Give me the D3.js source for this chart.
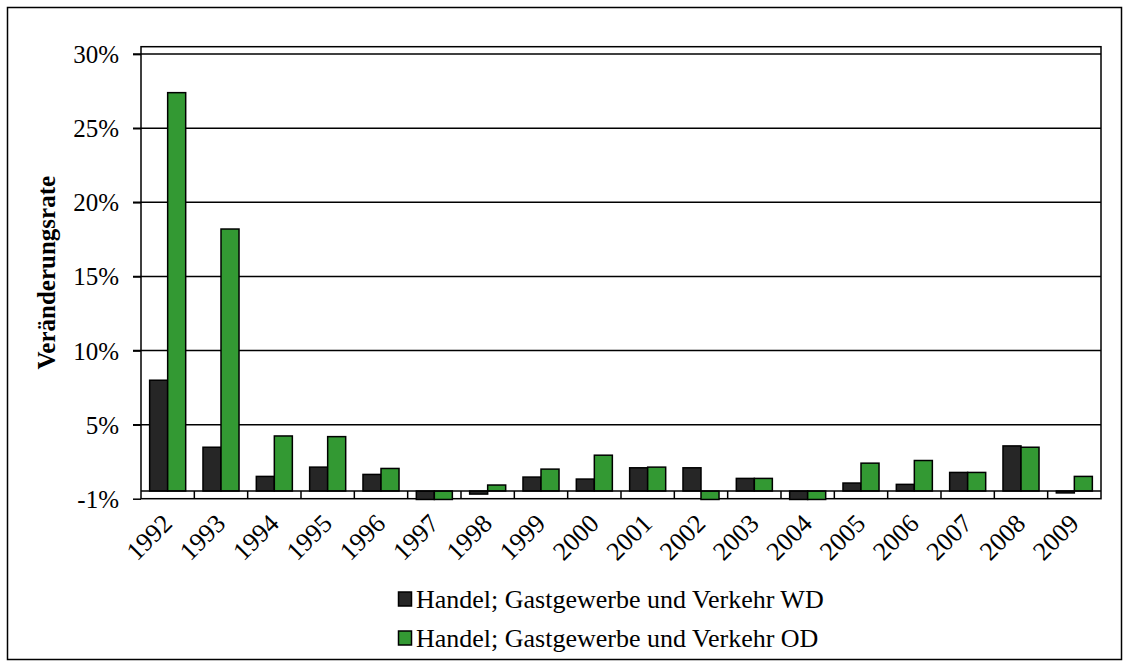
<!DOCTYPE html>
<html><head><meta charset="utf-8">
<script src="https://cdn.jsdelivr.net/npm/d3@7"></script>
<style>body{margin:0;background:#fff}svg{display:block}text{font-family:"Liberation Serif","Times New Roman",serif;fill:#000}</style>
</head><body>
<svg id="c" width="1130" height="668"></svg>
<script>
const years = ["1992","1993","1994","1995","1996","1997","1998","1999","2000","2001","2002","2003","2004","2005","2006","2007","2008","2009"];
const seriesNames = ["Handel; Gastgewerbe und Verkehr WD","Handel; Gastgewerbe und Verkehr OD"];
const valuesWD = [8.0, 3.3, 1.1, 1.8, 1.25, -1.1, -0.4, 1.05, 0.9, 1.75, 1.75, 0.95, -1.1, 0.6, 0.5, 1.4, 3.4, -0.25];
const valuesOD = [27.4, 18.2, 4.15, 4.1, 1.7, -1.1, 0.45, 1.65, 2.7, 1.8, -1.1, 0.95, -1.1, 2.1, 2.3, 1.4, 3.3, 1.1];
const tickValues = [30, 25, 20, 15, 10, 5, -1];
const tickLabels = ["30%","25%","20%","15%","10%","5%","-1%"];
const colors = ["#262626", "#339933"];

const svg = d3.select("#c");
const L = 141, R = 1101, T = 46.7, B = 498.7;

svg.append("rect").attr("x",7.5).attr("y",7.5).attr("width",1114).attr("height",652)
  .attr("fill","#fff").attr("stroke","#000").attr("stroke-width",1.5);

const x = d3.scaleBand().domain(years).range([L, R]).paddingInner(0).paddingOuter(0);
const inner = d3.scaleBand().domain([0,1]).range([0, x.bandwidth()]).paddingInner(0).paddingOuter(0.48);
const y = d3.scaleLinear().domain([-1, 0, 5, 30.5]).range([B, 491, 424.7, T]);

// gridlines
svg.append("g").selectAll("line").data(tickValues.filter(v => v > 0)).join("line")
  .attr("x1", L - 8).attr("x2", R).attr("y1", d => y(d)).attr("y2", d => y(d))
  .attr("stroke","#000").attr("stroke-width",1.5);

// plot border
svg.append("rect").attr("x",L).attr("y",T).attr("width",R-L).attr("height",B-T)
  .attr("fill","none").attr("stroke","#000").attr("stroke-width",1.5);

// y axis
const yAxis = d3.axisLeft(y).tickValues(tickValues).tickFormat((d,i) => tickLabels[i]).tickSize(8).tickPadding(14);
const ga = svg.append("g").attr("transform",`translate(${L},0)`).call(yAxis);
ga.select(".domain").remove();
ga.selectAll(".tick line").attr("stroke","#000").attr("stroke-width",1.5);
ga.selectAll(".tick text").style("font-size","25px").attr("dy","0.34em");

// bars
const data = years.map((yr,i) => ({yr, vals:[valuesWD[i], valuesOD[i]]}));
const g = svg.append("g");
data.forEach(d => {
  d.vals.forEach((v,k) => {
    const y0 = y(0), y1 = y(v);
    g.append("rect")
      .attr("x", x(d.yr) + inner(k)).attr("width", inner.bandwidth())
      .attr("y", Math.min(y0,y1)).attr("height", Math.abs(y1-y0))
      .attr("fill", colors[k]).attr("stroke","#000").attr("stroke-width",1.5);
  });
});

// category axis line at 0 and separators
svg.append("line").attr("x1",L).attr("x2",R).attr("y1",y(0)).attr("y2",y(0)).attr("stroke","#000").attr("stroke-width",1.5);
svg.append("g").selectAll("line").data(years.slice(1)).join("line")
  .attr("x1", d => x(d)).attr("x2", d => x(d)).attr("y1", y(0)).attr("y2", B)
  .attr("stroke","#000").attr("stroke-width",1.5);

// year labels
svg.append("g").selectAll("text").data(years).join("text")
  .attr("transform", d => `translate(${x(d) + x.bandwidth()/2 + 6},${525}) rotate(-45)`)
  .attr("text-anchor","end").style("font-size","26px").text(d => d);

// y title
svg.append("text").attr("transform",`translate(55,${(T+B)/2}) rotate(-90)`)
  .attr("text-anchor","middle").style("font-size","25px").style("font-weight","bold").text("Veränderungsrate");

// legend
const lg = svg.append("g");
seriesNames.forEach((n,i) => {
  const yy = 592 + i*39;
  lg.append("rect").attr("x",398.5).attr("y",yy).attr("width",13).attr("height",14)
    .attr("fill",colors[i]).attr("stroke","#000").attr("stroke-width",1.5);
  lg.append("text").attr("x",416).attr("y",yy+16).style("font-size","26px").text(n);
});
</script>
</body></html>
